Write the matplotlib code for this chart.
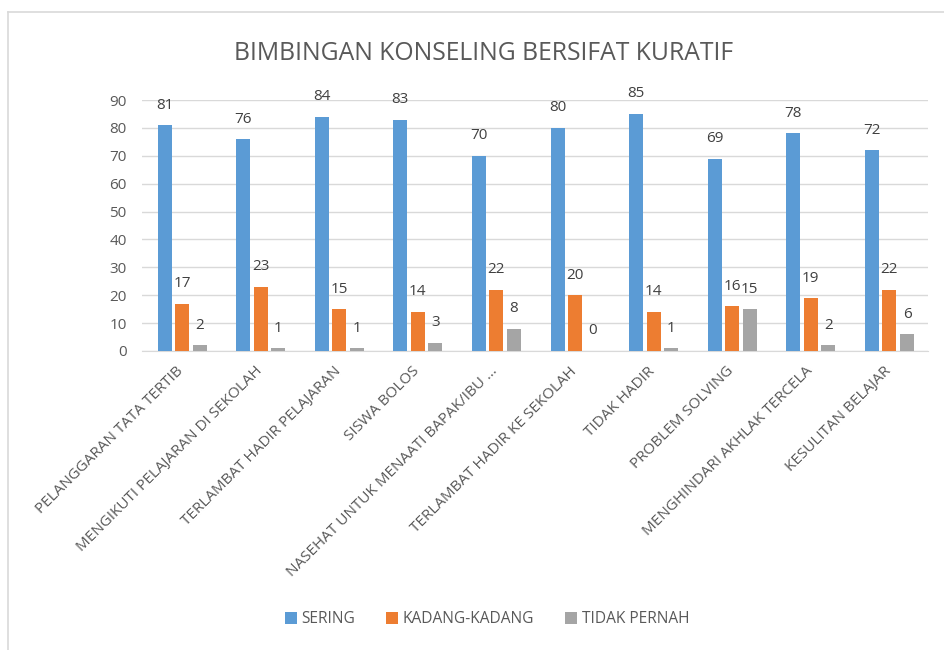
import numpy as np
import matplotlib.pyplot as plt
from matplotlib.lines import Line2D

plt.rcParams['font.family'] = ['Open Sans', 'DejaVu Sans']

# data
categories = ["PELANGGARAN TATA TERTIB", "MENGIKUTI PELAJARAN DI SEKOLAH",
              "TERLAMBAT HADIR PELAJARAN", "SISWA BOLOS",
              "NASEHAT UNTUK MENAATI BAPAK/IBU ...", "TERLAMBAT HADIR KE SEKOLAH",
              "TIDAK HADIR", "PROBLEM SOLVING", "MENGHINDARI AKHLAK TERCELA",
              "KESULITAN BELAJAR"]
sering = [81, 76, 84, 83, 70, 80, 85, 69, 78, 72]
kadang = [17, 23, 15, 14, 22, 20, 14, 16, 19, 22]
tidak = [2, 1, 1, 3, 8, 0, 1, 15, 2, 6]
series_names = ["SERING", "KADANG-KADANG", "TIDAK PERNAH"]
colors = ["#5B9BD5", "#ED7D31", "#A5A5A5"]
txt = "#595959"

fig = plt.figure(figsize=(9.44, 6.5), dpi=100)
ax = fig.add_axes([142 / 944, 1 - 351 / 650, 786 / 944, 251 / 650])

x = np.arange(len(categories))
w = 0.178
step = 0.223
for i, (vals, name, c) in enumerate(zip([sering, kadang, tidak], series_names, colors)):
    pos = x + 0.01 + (i - 1) * step
    bars = ax.bar(pos, vals, width=w, color=c, label=name, zorder=3)
    for b, v in zip(bars, vals):
        ax.annotate(str(v), (b.get_x() + b.get_width() / 2, v),
                    xytext=(0, 9), textcoords="offset points",
                    ha="center", va="bottom", fontsize=11, color="#404040")

ax.set_xlim(-0.5, len(categories) - 0.5)
ax.set_ylim(0, 90)
ax.set_yticks(range(0, 91, 10))
ax.yaxis.grid(True, color="#D9D9D9", linewidth=1, zorder=0)
for s in ["top", "right", "left"]:
    ax.spines[s].set_visible(False)
ax.spines["bottom"].set_color("#D9D9D9")
ax.tick_params(axis="both", length=0, colors=txt)
ax.tick_params(axis="y", pad=11, labelsize=11)
ax.tick_params(axis="x", pad=13)
ax.set_xticks(x)
ax.set_xticklabels(categories, rotation=45, ha="right", va="center",
                   rotation_mode="anchor", fontsize=11, color=txt)

fig.text(0.512, 0.918, "BIMBINGAN KONSELING BERSIFAT KURATIF",
         ha="center", va="center", fontsize=17.8, color=txt)

fig.legend(loc="center", bbox_to_anchor=(0.516, 0.047), ncol=3, frameon=False,
           fontsize=11.2, labelcolor=txt, handlelength=0.75, handleheight=0.75,
           handletextpad=0.3, columnspacing=2.0)

# chart border (only top and left visible)
fig.add_artist(Line2D([0.0085, 0.0085], [0, 0.9815], transform=fig.transFigure,
                      color="#D9D9D9", linewidth=1.2))
fig.add_artist(Line2D([0.0085, 1], [0.9815, 0.9815], transform=fig.transFigure,
                      color="#D9D9D9", linewidth=1.2))

fig.savefig("out.png", dpi=100)
